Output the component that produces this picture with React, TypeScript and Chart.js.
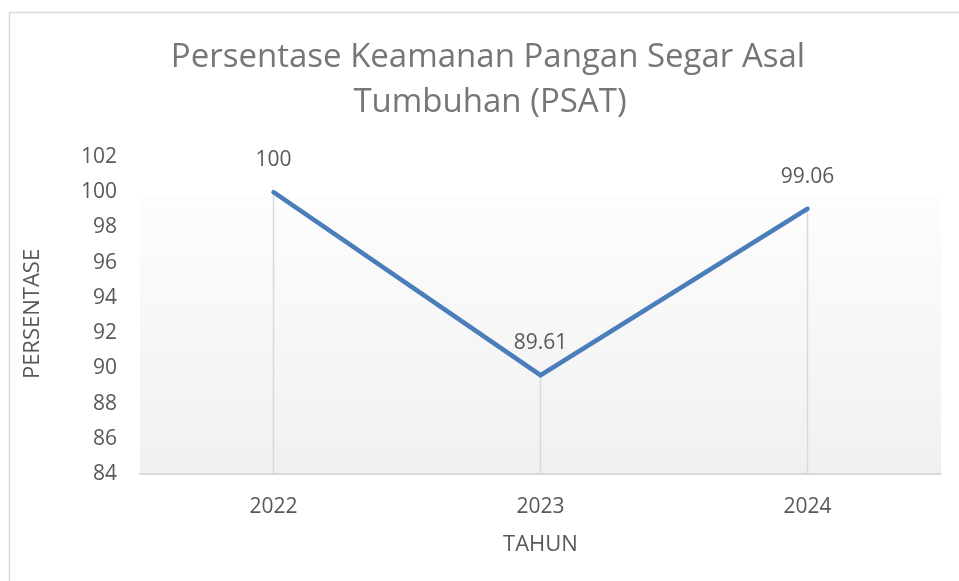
import React, { useEffect, useRef } from "react";
import { Chart, registerables } from "chart.js";

Chart.register(...registerables);

const categories = ["2022", "2023", "2024"];
const values = [100, 89.61, 99.06];
const valueLabels = ["100", "89.61", "99.06"];
const titleLines = ["Persentase Keamanan Pangan Segar Asal", "Tumbuhan (PSAT)"];
const yTitle = "PERSENTASE";
const xTitle = "TAHUN";
const yMin = 84;
const yMax = 102;
const yStep = 2;

const FONT = "'Open Sans', 'DejaVu Sans', sans-serif";

export default function App() {
  const ref = useRef<HTMLCanvasElement | null>(null);

  useEffect(() => {
    document.body.style.margin = "0";
    const canvas = ref.current;
    if (!canvas) return;

    const decor = {
      id: "decor",
      beforeDraw(chart: any) {
        const { ctx, chartArea } = chart;
        ctx.save();
        ctx.fillStyle = "#ffffff";
        ctx.fillRect(0, 0, chart.width, chart.height);
        // chart border
        ctx.strokeStyle = "#d9d9d9";
        ctx.lineWidth = 1.5;
        ctx.strokeRect(9.5, 12.5, chart.width + 20, chart.height + 20);
        // plot background gradient
        const h = chartArea.bottom - chartArea.top;
        const gTop = chartArea.top + h * 0.125;
        const g = ctx.createLinearGradient(0, gTop, 0, chartArea.bottom);
        g.addColorStop(0, "#fdfdfd");
        g.addColorStop(1, "#f0f0f0");
        ctx.fillStyle = g;
        ctx.fillRect(chartArea.left, gTop, chartArea.right - chartArea.left, chartArea.bottom - gTop);
        // title
        ctx.fillStyle = "#767676";
        ctx.font = `33px ${FONT}`;
        ctx.textAlign = "center";
        ctx.textBaseline = "middle";
        ctx.fillText(titleLines[0], 488, 58);
        ctx.fillText(titleLines[1], 490, 103);
        // axis titles
        ctx.fillStyle = "#595959";
        ctx.font = `22px ${FONT}`;
        ctx.fillText(xTitle, (chartArea.left + chartArea.right) / 2, 545);
        ctx.save();
        ctx.translate(33, 314);
        ctx.rotate(-Math.PI / 2);
        ctx.fillText(yTitle, 0, 0);
        ctx.restore();
        ctx.restore();
      },
      beforeDatasetsDraw(chart: any) {
        const { ctx, chartArea } = chart;
        const meta = chart.getDatasetMeta(0);
        ctx.save();
        ctx.strokeStyle = "#d9d9d9";
        ctx.lineWidth = 1.5;
        meta.data.forEach((pt: any) => {
          ctx.beginPath();
          ctx.moveTo(pt.x, pt.y);
          ctx.lineTo(pt.x, chartArea.bottom);
          ctx.stroke();
        });
        ctx.restore();
      },
      afterDatasetsDraw(chart: any) {
        const { ctx } = chart;
        const meta = chart.getDatasetMeta(0);
        ctx.save();
        ctx.fillStyle = "#595959";
        ctx.font = `21px ${FONT}`;
        ctx.textAlign = "center";
        ctx.textBaseline = "middle";
        meta.data.forEach((pt: any, i: number) => {
          ctx.fillText(valueLabels[i], pt.x, pt.y - 32);
        });
        ctx.restore();
      },
    };

    const chart = new Chart(canvas, {
      type: "line",
      data: {
        labels: categories,
        datasets: [
          {
            data: values,
            borderColor: "#4a7ebb",
            borderWidth: 4.5,
            pointRadius: 0,
            pointHoverRadius: 0,
            borderCapStyle: "round",
            borderJoinStyle: "miter",
            tension: 0,
          },
        ],
      },
      options: {
        responsive: false,
        animation: false,
        layout: { padding: { top: 157, right: 18, left: 0, bottom: 0 } },
        plugins: {
          legend: { display: false },
          title: { display: false },
          tooltip: { enabled: false },
        },
        scales: {
          x: {
            offset: true,
            grid: { display: false, drawTicks: false },
            border: { display: true, color: "#d9d9d9", width: 2 },
            ticks: {
              color: "#595959",
              font: { family: FONT, size: 21 },
              padding: 20,
            },
            afterFit(scale: any) {
              scale.height = 581 - 474;
            },
          },
          y: {
            min: yMin,
            max: yMax,
            grid: { display: false, drawTicks: false },
            border: { display: false },
            ticks: {
              stepSize: yStep,
              color: "#595959",
              font: { family: FONT, size: 21 },
              padding: 23,
            },
            afterFit(scale: any) {
              scale.width = 140;
            },
          },
        },
      },
      plugins: [decor],
    } as any);

    return () => chart.destroy();
  }, []);

  return (
    <div style={{ width: 959, height: 581, position: "relative" }}>
      <canvas ref={ref} width={959} height={581} style={{ display: "block" }} />
    </div>
  );
}
